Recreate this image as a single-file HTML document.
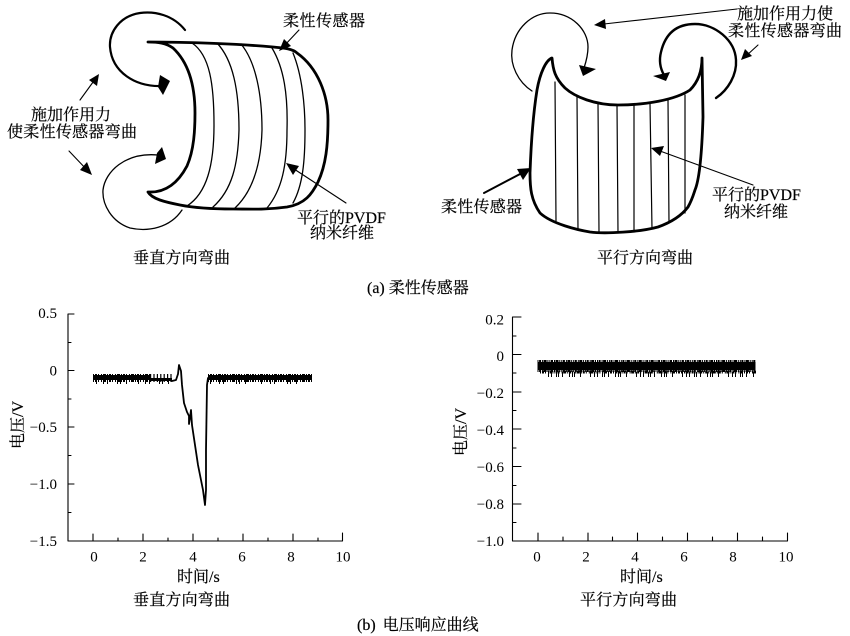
<!DOCTYPE html>
<html><head><meta charset="utf-8"><style>
html,body{margin:0;padding:0;background:#fff}
svg{display:block;filter:blur(0.35px)}
text{font-family:"Liberation Serif","Noto Serif CJK SC",serif;font-size:16px;fill:#000;stroke:#000;stroke-width:.2px}
.n text,text.n{font-size:15px;stroke-width:0}
path,line,polyline{fill:none;stroke:#000;stroke-linecap:round;stroke-linejoin:round}
.h{fill:#000;stroke:none}
.d{stroke-linecap:butt}
</style></head><body>
<svg width="850" height="636" viewBox="0 0 850 636" xmlns="http://www.w3.org/2000/svg">
<!-- left sensor -->
<path stroke-width="2.8" d="M148 42C190 42 240 44 273 47C285 48 293 49 297 53C318 68 328 95 328 120C328 145 326 165 318 182C312 194 305 204 287 207C265 210 250 209 233 209C210 209 195 208 180 205C165 202 152 199 148 192C165 193 178 183 187 166C194 150 195 130 195 113C195 85 188 62 173 48C166 43 158 42 148 42Z"/>
<g stroke-width="1.3">
<path d="M192 43C210 55 214 85 214 125C214 165 207 193 187 206"/>
<path d="M217 43C233 60 239 90 239 130C238 165 232 190 213 207"/>
<path d="M241 44C256 62 262 95 262 130C261 165 252 192 235 208"/>
<path d="M272 48C284 68 288 95 287 130C287 165 282 190 267 208"/>
<path d="M293 53C302 75 305 105 305 130C305 160 303 185 293 203"/>
</g>
<path stroke-width="2.2" d="M185 30C173 15 155 11 140 13C120 16 109 32 110 47C112 72 135 87 162 86"/>
<polygon class="h" points="160,75 170,81 163,95 158,87"/>
<path stroke-width="1.3" d="M182 210C170 228 148 232 130 228C112 222 102 205 103 190C105 172 125 152 158 155"/>
<polygon class="h" points="162,147 166,159 155,164 157,153"/>
<g stroke-width="1.1">
<line x1="299" y1="30" x2="284" y2="46"/>
<line x1="80" y1="100" x2="96" y2="78"/>
<line x1="69" y1="151" x2="88" y2="171"/>
<line x1="346" y1="203" x2="291" y2="167"/>
</g>
<polygon class="h" points="279,51 284,39 291,46"/>
<polygon class="h" points="99,74 97,86 89,80"/>
<polygon class="h" points="92,175 80,170 87,162"/>
<polygon class="h" points="286,163 299,166 293,175"/>
<!-- right sensor -->
<path stroke-width="2.8" d="M552 58C546 60 540 73 537 90C533 115 531 145 530 173C530 188 531 200 540 213C552 224 578 230 590 232C605 234 640 232 658 227C672 222 682 215 688 207C692 200 694 193 695 190C700 178 702 150 703 117L702 58C702 72 698 82 690 90C675 100 645 105 618 105C595 105 575 97 565 88C555 78 553 70 552 58Z"/>
<g stroke-width="1.2">
<line x1="555" y1="82" x2="556" y2="221"/>
<line x1="577" y1="97" x2="578" y2="230"/>
<line x1="598" y1="103" x2="599" y2="232"/>
<line x1="617" y1="105" x2="618" y2="233"/>
<line x1="634" y1="105" x2="634" y2="232"/>
<line x1="650" y1="103" x2="652" y2="229"/>
<line x1="668" y1="100" x2="669" y2="223"/>
<line x1="685" y1="95" x2="685" y2="213"/>
</g>
<path stroke-width="1.3" d="M532 91C518 82 510 65 512 50C515 28 532 13 550 13C572 13 588 30 588 47C588 55 586 62 584 68"/>
<polygon class="h" points="579,65 596,69 583,76"/>
<path stroke-width="2.4" d="M664 75C660 68 659 60 661 52C665 35 675 24 695 24C715 24 735 40 736 60C737 75 728 90 716 98"/>
<polygon class="h" points="653,76 670,72 666,81"/>
<line stroke-width="1.1" x1="737" y1="9" x2="604" y2="24"/>
<polygon class="h" points="594,25 605,19 606,29"/>
<line stroke-width="1.1" x1="758" y1="45" x2="746" y2="56"/>
<polygon class="h" points="741,60 745,49 752,56"/>
<line stroke-width="2" x1="484" y1="193" x2="522" y2="173"/>
<polygon class="h" points="531,168 523,180 517,169"/>
<line stroke-width="1.1" x1="753" y1="185" x2="660" y2="151"/>
<polygon class="h" points="651,148 664,146 660,156"/>
<!-- upper labels -->
<text x="31" y="120">施加作用力</text>
<text x="7" y="137" textLength="130" lengthAdjust="spacing">使柔性传感器弯曲</text>
<text x="283" y="26" textLength="82" lengthAdjust="spacing">柔性传感器</text>
<text x="297" y="223">平行的PVDF</text>
<text x="310" y="238">纳米纤维</text>
<text x="133" y="263" textLength="97" lengthAdjust="spacing">垂直方向弯曲</text>
<text x="737" y="19">施加作用力使</text>
<text x="728" y="36" textLength="114" lengthAdjust="spacing">柔性传感器弯曲</text>
<text x="441" y="212" textLength="81" lengthAdjust="spacing">柔性传感器</text>
<text x="712" y="200">平行的PVDF</text>
<text x="724" y="217">纳米纤维</text>
<text x="597" y="263">平行方向弯曲</text>
<text x="367" y="293">(a) 柔性传感器</text>
<!-- left chart -->
<path stroke-width="1.1" d="M74 314H68V541H342.5V533"/>
<g stroke-width="1.1">
<path d="M68 342.5H71M68 370.5H74M68 399H71M68 427H74M68 455.5H71M68 484H74M68 512.5H71"/>
<path d="M93 541V534M118 541V538M143 541V534M168 541V538M193 541V534M218 541V538M243 541V534M268 541V538M293 541V534M318 541V538"/>
</g>
<rect x="93" y="375" width="57" height="5" fill="#000"/>
<rect x="208" y="375" width="104" height="5" fill="#000"/>
<rect x="150" y="378" width="22" height="3" fill="#000"/>
<line class="d" x1="93" y1="378" x2="150" y2="378" stroke-width="8" stroke-dasharray="1 1 2 1 1 2 1 1 3 1"/>
<line class="d" x1="150" y1="378" x2="172" y2="378" stroke-width="8" stroke-dasharray="1.2 2.2"/>
<line class="d" x1="208" y1="378" x2="312" y2="378" stroke-width="8" stroke-dasharray="1 1 2 1 1 2 1 1 3 1"/>
<line class="d" x1="96" y1="382" x2="172" y2="382" stroke-width="4" stroke-dasharray="1 6 1 3 1 9 1 2 1 5 1 11"/>
<line class="d" x1="210" y1="382" x2="312" y2="382" stroke-width="4" stroke-dasharray="1 8 1 3 1 12 1 2 1 5 1 15"/>
<polyline stroke-width="1.8" points="172,381 176,380 178,374 179,365 181,371 182,385 184,403 187,412 189,416 189,424 190,418 191,410 192,425 195,445 198,465 200,475 203,490 205,505 206,490 206,450 207,385 208,378"/>
<g text-anchor="end" class="n">
<text x="57" y="318">0.5</text><text x="57" y="375.5">0</text><text x="57" y="432">−0.5</text><text x="57" y="489">−1.0</text><text x="57" y="546">−1.5</text>
</g>
<g text-anchor="middle" class="n">
<text x="94" y="561.5">0</text><text x="143" y="561.5">2</text><text x="193" y="561.5">4</text><text x="242" y="561.5">6</text><text x="291" y="561.5">8</text><text x="343" y="561.5">10</text>
</g>
<text transform="translate(23,425) rotate(-90)" text-anchor="middle">电压/V</text>
<text x="177" y="582">时间/s</text>
<text x="133" y="605" textLength="97" lengthAdjust="spacing">垂直方向弯曲</text>
<!-- right chart -->
<path stroke-width="1.1" d="M521 317H512.5V541H787.5V533"/>
<g stroke-width="1.1">
<path d="M512.5 336H516M512.5 354.5H521M512.5 373H516M512.5 392H521M512.5 410.5H516M512.5 429H521M512.5 448H516M512.5 466.5H521M512.5 485.5H516M512.5 504H521M512.5 522.5H516"/>
<path d="M538 541V533M563 541V537M588 541V533M612.500 541V537M637.500 541V533M662.500 541V537M687.500 541V533M712.500 541V537M737.500 541V533M762.500 541V537"/>
</g>
<rect x="537.500" y="362" width="218" height="8" fill="#000"/>
<line class="d" x1="537.500" y1="366" x2="756" y2="366" stroke-width="12" stroke-dasharray="1 .6 2 1 1 .5 3 .8 1 1"/>
<line class="d" x1="540" y1="372" x2="756" y2="372" stroke-width="3" stroke-dasharray="1 1 2 1 1 2 1 .6 3 1"/>
<line class="d" x1="548" y1="374.500" x2="756" y2="374.500" stroke-width="5" stroke-dasharray="1 2 1 4 1 1 1 3 1 6 1 2 1 1 1 5 1 9 1 3"/>
<g text-anchor="end" class="n">
<text x="504" y="324.500">0.2</text><text x="504" y="361">0</text><text x="504" y="398">−0.2</text><text x="504" y="435">−0.4</text><text x="504" y="472">−0.6</text><text x="504" y="509">−0.8</text><text x="504" y="546">−1.0</text>
</g>
<g text-anchor="middle" class="n">
<text x="537" y="561.5">0</text><text x="586" y="561.5">2</text><text x="635" y="561.5">4</text><text x="684" y="561.5">6</text><text x="733" y="561.5">8</text><text x="786" y="561.5">10</text>
</g>
<text transform="translate(466,432) rotate(-90)" text-anchor="middle">电压/V</text>
<text x="620" y="582">时间/s</text>
<text x="580" y="605" textLength="97" lengthAdjust="spacing">平行方向弯曲</text>
<text x="357" y="630" word-spacing="3">(b) 电压响应曲线</text>
</svg>
</body></html>
